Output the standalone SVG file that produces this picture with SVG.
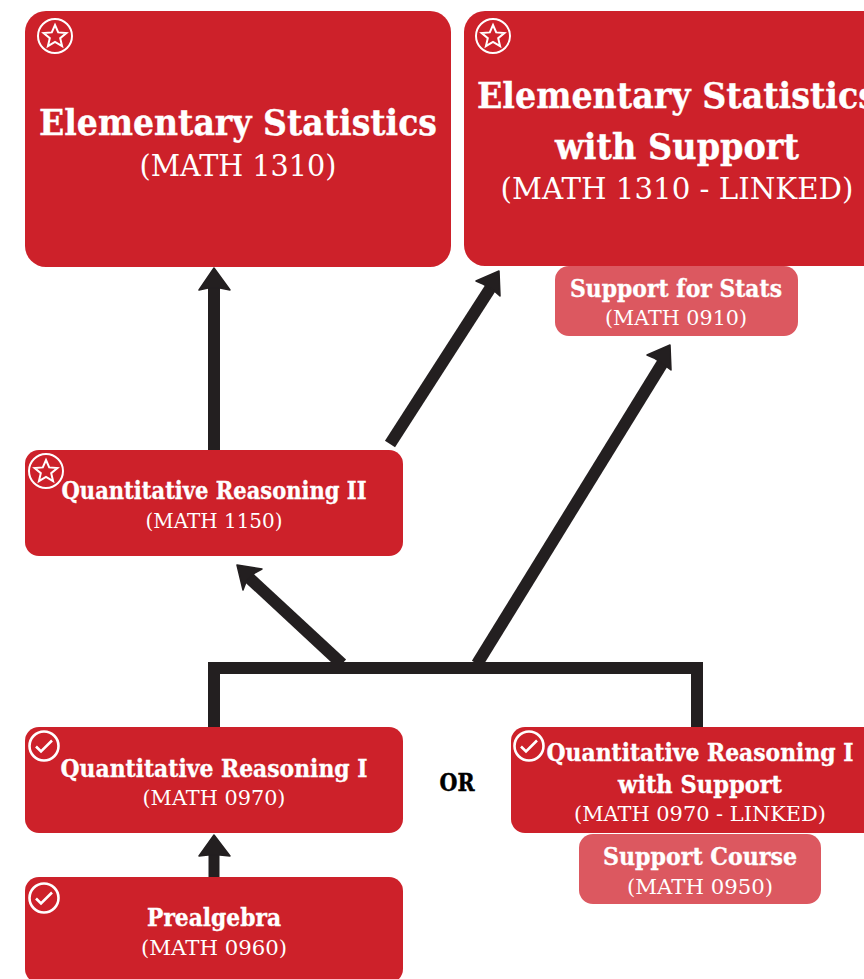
<svg xmlns="http://www.w3.org/2000/svg" width="864" height="979" viewBox="0 0 864 979">
<style>
.n{fill:#cd212a}
.s{fill:#dc5860}
.t{fill:#fff;stroke:#fff;stroke-width:.35;font-family:"DejaVu Serif","Liberation Serif",serif;font-weight:700;text-anchor:middle}
.c{fill:#fff;font-family:"DejaVu Serif","Liberation Serif",serif;font-weight:400;text-anchor:middle}
.i{fill:none;stroke:#fff;stroke-width:2}
.k{fill:none;stroke:#fff;stroke-width:2.600}
.l{fill:none;stroke:#231f20;stroke-linejoin:miter}
.h{fill:#231f20;stroke:#231f20;stroke-width:1.500;stroke-linejoin:round}
</style>
<defs>
<g id="star"><circle class="i" r="17"/><path class="i" d="M0-11 3.200-3.600 11.400-3 5.200 2.200 7.100 10.200 0 6-7.100 10.200-5.200 2.200-11.400-3-3.200-3.600Z"/></g>
<g id="check"><circle class="k" r="14.500"/><path class="k" d="M-8 0.500-3 5.500 8-5.500"/></g>
</defs>
<g id="connectors">
<path class="l" stroke-width="12" d="M214 451V285"/>
<path class="h" d="M214 268 230 290 220 288H208L199 290Z"/>
<path class="l" stroke-width="12" d="M390 444 493 284"/>
<path class="h" d="M499 271 500 296 492 289 483 284 476 281Z"/>
<path class="l" stroke-width="12" d="M477 664 665 359"/>
<path class="h" d="M670 345 671 370 663 364 654 358 647 355Z"/>
<path class="l" stroke-width="12" d="M342 664 246 575"/>
<path class="h" d="M237 565 262 569 253 574 246 582 243 590Z"/>
<path class="l" stroke-width="12" d="M214 728V668H697V728"/>
<path class="l" stroke-width="11" d="M214 878V850"/>
<path class="h" d="M214 835 230 856 220 855H208L199 856Z"/>
</g>
<g id="elementary-statistics"><rect class="n" x="25" y="11" width="426" height="256" rx="21"/><use href="#star" x="55" y="36"/><text class="t" x="238" y="135" font-size="35" textLength="398" lengthAdjust="spacingAndGlyphs">Elementary Statistics</text><text class="c" x="238" y="176" font-size="30" textLength="197" lengthAdjust="spacingAndGlyphs">(MATH 1310)</text></g>
<g id="elementary-statistics-support"><rect class="n" x="464" y="11" width="426" height="255" rx="21"/><use href="#star" x="493" y="36"/><text class="t" x="677" y="108" font-size="35" textLength="400" lengthAdjust="spacingAndGlyphs">Elementary Statistics</text><text class="t" x="677" y="159" font-size="35" textLength="244" lengthAdjust="spacingAndGlyphs">with Support</text><text class="c" x="677" y="199" font-size="30" textLength="353" lengthAdjust="spacingAndGlyphs">(MATH 1310 - LINKED)</text></g>
<g id="support-stats"><rect class="s" x="555" y="266" width="243" height="70" rx="14"/><text class="t" x="676" y="297" font-size="24" textLength="212" lengthAdjust="spacingAndGlyphs">Support for Stats</text><text class="c" x="676" y="325" font-size="21" textLength="142" lengthAdjust="spacingAndGlyphs">(MATH 0910)</text></g>
<g id="qr2"><rect class="n" x="25" y="450" width="378" height="106" rx="14"/><use href="#star" x="46" y="471"/><text class="t" x="214" y="499" font-size="24" textLength="305" lengthAdjust="spacingAndGlyphs">Quantitative Reasoning II</text><text class="c" x="214" y="528" font-size="21" textLength="137" lengthAdjust="spacingAndGlyphs">(MATH 1150)</text></g>
<g id="qr1"><rect class="n" x="25" y="727" width="378" height="106" rx="14"/><use href="#check" x="44" y="746"/><text class="t" x="214" y="777" font-size="24" textLength="307" lengthAdjust="spacingAndGlyphs">Quantitative Reasoning I</text><text class="c" x="214" y="805" font-size="21" textLength="143" lengthAdjust="spacingAndGlyphs">(MATH 0970)</text></g>
<g id="or"><text x="457" y="791" font-family="'DejaVu Serif','Liberation Serif',serif" font-weight="700" font-size="24" fill="#000" stroke="#000" stroke-width=".5" text-anchor="middle" textLength="35" lengthAdjust="spacingAndGlyphs">OR</text></g>
<g id="qr1-support"><rect class="n" x="511" y="727" width="378" height="106" rx="14"/><use href="#check" x="529" y="746"/><text class="t" x="700" y="761" font-size="24" textLength="307" lengthAdjust="spacingAndGlyphs">Quantitative Reasoning I</text><text class="t" x="700" y="793" font-size="24" textLength="164" lengthAdjust="spacingAndGlyphs">with Support</text><text class="c" x="700" y="821" font-size="21" textLength="252" lengthAdjust="spacingAndGlyphs">(MATH 0970 - LINKED)</text></g>
<g id="support-course"><rect class="s" x="579" y="834" width="242" height="70" rx="14"/><text class="t" x="700" y="865" font-size="24" textLength="194" lengthAdjust="spacingAndGlyphs">Support Course</text><text class="c" x="700" y="894" font-size="21" textLength="146" lengthAdjust="spacingAndGlyphs">(MATH 0950)</text></g>
<g id="prealgebra"><rect class="n" x="25" y="877" width="378" height="106" rx="14"/><use href="#check" x="44" y="898"/><text class="t" x="214" y="926" font-size="24" textLength="134" lengthAdjust="spacingAndGlyphs">Prealgebra</text><text class="c" x="214" y="955" font-size="21" textLength="146" lengthAdjust="spacingAndGlyphs">(MATH 0960)</text></g>
</svg>
